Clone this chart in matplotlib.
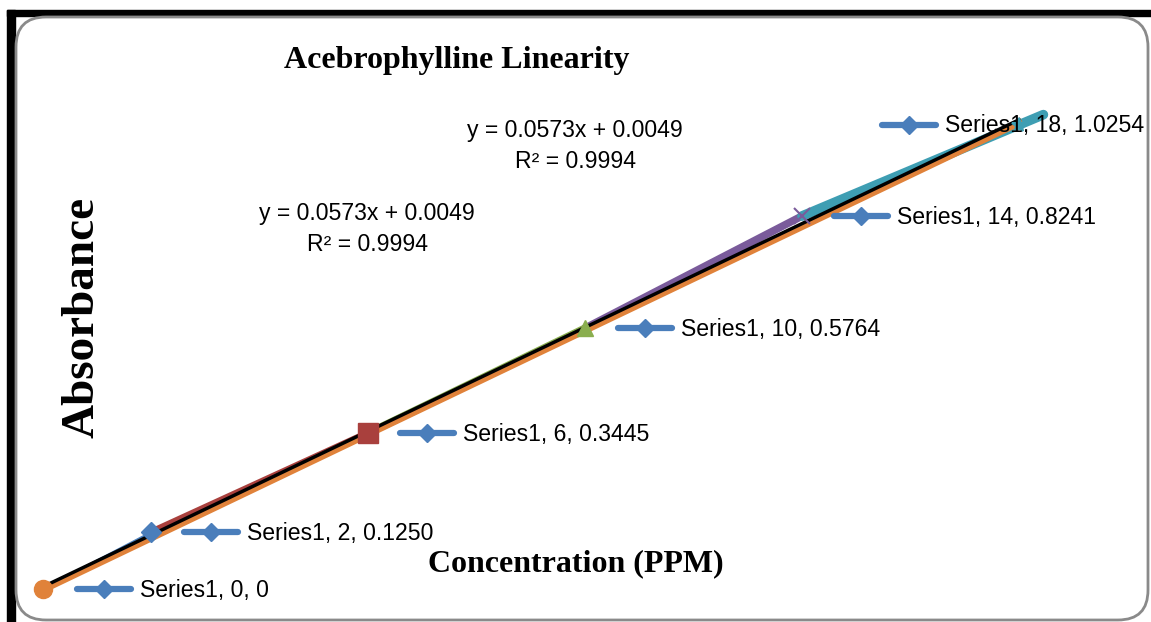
import numpy as np
import matplotlib.pyplot as plt
from matplotlib import transforms
from matplotlib.patches import FancyBboxPatch, Rectangle

# 濃度 (PPM) 與吸光度
conc = [0, 2, 6, 10, 14, 18]
absorb = [0.0, 0.1250, 0.3445, 0.5764, 0.8241, 1.0254]
absorb_text = ["0", "0.1250", "0.3445", "0.5764", "0.8241", "1.0254"]
point_colors = ["#E0823A", "#4A7EBB", "#A9403D", "#8AAE4F", "#7A5B9B", "#3E9EB3"]
point_markers = ["o", "D", "s", "^", "x", "*"]
marker_sizes = [13, 10, 14, 12, 12, 10]
# data label x-offset (pixels) of the legend key, text follows
label_dx = [34, 33, 32, 33, 32, -137]

slope, intercept = np.polyfit(conc, absorb, 1)
eq_text = f"y = {slope:.4f}x + {intercept:.4f}\nR² = 0.9994"

W, H, DPI = 1151, 622, 100
fig = plt.figure(figsize=(W / DPI, H / DPI), dpi=DPI)
ax = fig.add_axes([0, 0, 1, 1], zorder=1)
ax.patch.set_alpha(0)
# x=0 at 43 px, 54.22 px per unit ; y=0 at 33 px from bottom, 452.6 px per unit
ax.set_xlim(-43 / 54.22, (W - 43) / 54.22)
ax.set_ylim(-33 / 452.6, (H - 33) / 452.6)
ax.axis("off")

pix = transforms.IdentityTransform()

# frame: thick black top/left, rounded grey chart area
fig.patches.append(Rectangle((7, 0), 8, H - 10, transform=pix, color="black", zorder=0))
fig.patches.append(Rectangle((7, H - 16), W - 7, 6, transform=pix, color="black", zorder=0))
fig.patches.append(FancyBboxPatch((16, 2), W - 19, H - 19,
                                  boxstyle="round,pad=0,rounding_size=30",
                                  transform=pix, facecolor="white",
                                  edgecolor="#8a8a8a", lw=2, zorder=0.5))

sans = ["Liberation Sans", "DejaVu Sans"]
serif = ["Liberation Serif", "DejaVu Serif"]

# segments, coloured by end point (Excel vary colors)
for i in range(1, len(conc)):
    xs = [conc[i - 1], conc[i]]
    ys = [absorb[i - 1], absorb[i]]
    if i == len(conc) - 1:
        ext = 0.45
        xs.append(conc[i] + ext)
        ys.append(absorb[i] + ext * (absorb[i] - absorb[i - 1]) / (conc[i] - conc[i - 1]))
    lw = 7 if i == len(conc) - 1 else (2 if i == 1 else 5.5)
    ax.plot(xs, ys, color=point_colors[i], lw=lw, solid_capstyle="round", zorder=2)

# trendlines
xt = np.array([conc[0], conc[-1]])
orange_shift = transforms.offset_copy(ax.transData, fig=fig, x=0, y=-3, units="dots")
ax.plot(xt, slope * xt + intercept, color="#E0823A", lw=5, zorder=3,
        transform=orange_shift)
ax.plot(xt, slope * xt + intercept, color="black", lw=2.5, zorder=4)

# markers
for x, y, c, m, s in zip(conc, absorb, point_colors, point_markers, marker_sizes):
    thin = m in ("x", "*")
    ax.plot(x, y, marker=m, ms=s, color=c, mec=c, mew=1.5 if thin else 1,
            ls="none", zorder=5)

# data labels with legend key
for x, y, yt, dx in zip(conc, absorb, absorb_text, label_dx):
    px, py = ax.transData.transform((x, y))
    ax.plot([px + dx, px + dx + 54], [py, py], transform=pix, color="#4A7EBB",
            lw=4.5, solid_capstyle="round", zorder=6)
    ax.plot([px + dx + 27], [py], transform=pix, marker="D", ms=9,
            color="#4A7EBB", zorder=6)
    ax.annotate(f"Series1, {x}, {yt}", (x, y), xytext=(dx + 63, -1),
                textcoords="offset pixels", va="center", ha="left",
                fontsize=16.6, family=sans, zorder=7)

# equations
ax.text(0.4996, 0.765, eq_text, transform=fig.transFigure, ha="center", va="center",
        fontsize=16.6, family=sans, linespacing=1.42)
ax.text(0.319, 0.632, eq_text, transform=fig.transFigure, ha="center", va="center",
        fontsize=16.6, family=sans, linespacing=1.42)

# titles
ax.text(0.397, 0.902, "Acebrophylline Linearity", transform=fig.transFigure,
        ha="center", va="center", fontsize=23, fontweight="bold", family=serif)
ax.text(0.072, 0.49, "Absorbance", transform=fig.transFigure, ha="center",
        va="center", rotation=90, fontsize=34, fontweight="bold", family=serif)
ax.text(0.5, 0.094, "Concentration (PPM)", transform=fig.transFigure, ha="center",
        va="center", fontsize=23, fontweight="bold", family=serif)

fig.savefig("out.png", dpi=DPI)
